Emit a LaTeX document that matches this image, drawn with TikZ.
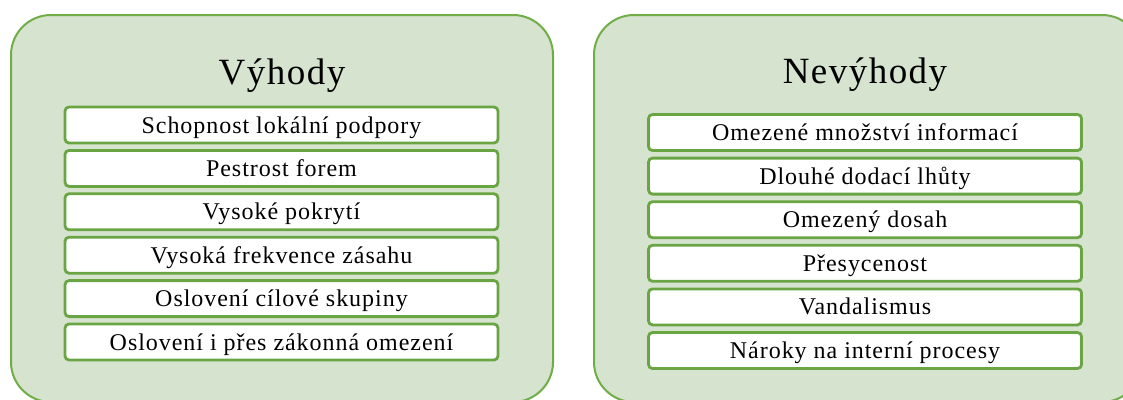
\documentclass[tikz,border=0pt]{standalone}
\usepackage{fontspec}
\setmainfont{Liberation Serif}
\newfontfamily\itemfont[LetterSpace=4]{Liberation Serif}
\newfontfamily\titlefont[LetterSpace=4]{Liberation Serif}
\definecolor{panelfill}{HTML}{D5E3CF}
\definecolor{accgreen}{HTML}{70AD47}
\definecolor{boxgreen}{HTML}{6AA544}
\tikzset{
  panel/.style={draw=accgreen, fill=panelfill, line width=2pt, rounded corners=40pt, minimum height=387pt, inner sep=0pt},
  itembox/.style={draw=boxgreen, fill=white, line width=2.8pt, rounded corners=4pt, minimum width=433pt, minimum height=36pt, inner sep=0pt, text height=16pt, text depth=0pt, font=\fontsize{24pt}{28pt}\itemfont},
  titletext/.style={inner sep=0pt, anchor=base, font=\fontsize{37pt}{44pt}\titlefont}
}
\begin{document}
\begin{tikzpicture}[x=1pt,y=-1pt]
\useasboundingbox (0,0) rectangle (1123,399);
\clip (0,0) rectangle (1123,399);
\node[panel, minimum width=542pt] (pl) at (282,208.5) {};
\node[panel, minimum width=548pt] (pr) at (868,208.5) {};
\node[titletext] (tl) at (282,84) {Výhody};
\node[titletext] (tr) at (865,83) {Nevýhody};
\node[itembox] (l1) at (281.5,125) {Schopnost lokální podpory};
\node[itembox] (l2) at (281.5,168.4) {Pestrost forem};
\node[itembox] (l3) at (281.5,211.8) {Vysoké pokrytí};
\node[itembox] (l4) at (281.5,255.2) {Vysoká frekvence zásahu};
\node[itembox] (l5) at (281.5,298.6) {Oslovení cílové skupiny};
\node[itembox] (l6) at (281.5,342) {Oslovení i přes zákonná omezení};
\node[itembox] (r1) at (865,132.5) {Omezené množství informací};
\node[itembox] (r2) at (865,176.1) {Dlouhé dodací lhůty};
\node[itembox] (r3) at (865,219.7) {Omezený dosah};
\node[itembox] (r4) at (865,263.3) {Přesycenost};
\node[itembox] (r5) at (865,306.9) {Vandalismus};
\node[itembox] (r6) at (865,350.5) {Nároky na interní procesy};
\end{tikzpicture}
\end{document}
